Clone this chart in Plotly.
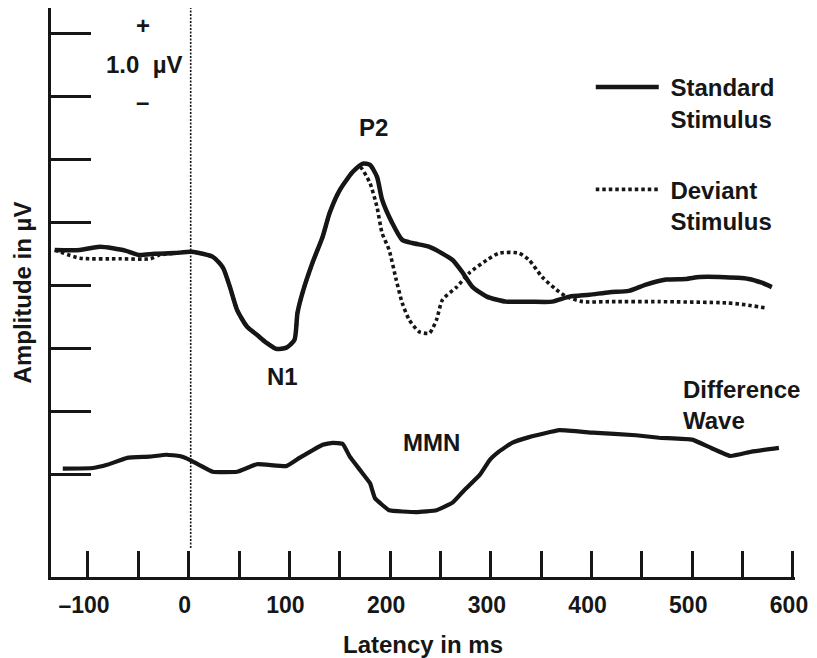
import plotly.graph_objects as go

# ---------------- data (latency in ms, amplitude in µV, plotted units) ----------------
std_ms = [-133, -108, -88, -63, -49, -34, -14, 3, 24, 34, 41, 48, 58, 68, 77, 87, 97, 105, 108, 113,
          123, 133, 140, 150, 163, 173, 180, 187, 192, 202, 212, 222, 239, 249, 262, 272, 282, 296,
          315, 338, 361, 378, 398, 418, 437, 454, 474, 494, 507, 527, 556, 569, 579]
std_uv = [3.57, 3.57, 3.62, 3.56, 3.49, 3.51, 3.52, 3.54, 3.46, 3.29, 2.98, 2.62, 2.35, 2.22, 2.10,
          2.00, 2.02, 2.14, 2.57, 2.89, 3.37, 3.78, 4.16, 4.52, 4.81, 4.94, 4.92, 4.73, 4.37, 4.00,
          3.73, 3.68, 3.62, 3.54, 3.41, 3.21, 2.98, 2.83, 2.75, 2.75, 2.75, 2.83, 2.86, 2.90, 2.92,
          3.02, 3.10, 3.11, 3.14, 3.14, 3.11, 3.05, 2.98]

dev_ms = [-133, -108, -68, -38, -29, -14, 3, 24, 34, 41, 48, 58, 68, 77, 87, 97, 105, 108, 113, 123,
          133, 140, 150, 163, 170, 180, 187, 192, 199, 206, 212, 219, 229, 239, 246, 252, 266, 279,
          296, 308, 328, 338, 351, 365, 375, 391, 420, 467, 534, 553, 573]
dev_uv = [3.57, 3.44, 3.43, 3.43, 3.49, 3.52, 3.54, 3.46, 3.29, 2.98, 2.62, 2.35, 2.22, 2.10, 2.00,
          2.02, 2.14, 2.57, 2.89, 3.37, 3.78, 4.16, 4.52, 4.81, 4.89, 4.63, 4.25, 3.84, 3.57, 3.10,
          2.73, 2.46, 2.27, 2.25, 2.46, 2.78, 2.98, 3.21, 3.41, 3.52, 3.52, 3.41, 3.14, 2.94, 2.83,
          2.75, 2.75, 2.75, 2.73, 2.70, 2.65]

diff_ms = [-125, -95, -81, -61, -39, -22, -9, 1, 24, 48, 68, 97, 110, 133, 143, 153, 160, 170, 180,
           185, 199, 226, 246, 262, 272, 289, 299, 308, 321, 338, 368, 401, 444, 467, 500, 517, 538,
           559, 586]
diff_uv = [0.10, 0.11, 0.16, 0.27, 0.29, 0.32, 0.30, 0.24, 0.05, 0.05, 0.17, 0.14, 0.27, 0.48, 0.51,
           0.49, 0.29, 0.08, -0.13, -0.37, -0.56, -0.59, -0.56, -0.44, -0.27, 0.00, 0.24, 0.37, 0.51,
           0.60, 0.71, 0.67, 0.63, 0.59, 0.56, 0.44, 0.30, 0.37, 0.43]

x_tick_vals = [-100, -50, 0, 50, 100, 150, 200, 250, 300, 350, 400, 450, 500, 550, 600]
x_tick_text = ["\u2013100", "", "0", "", "100", "", "200", "", "300", "", "400", "", "500", "", "600"]
y_tick_vals = [0, 1, 2, 3, 4, 5, 6, 7]

ONSET_MS = 2
ONSET_BOTTOM_UV = -1.16

X_RANGE = [-136.7, 602]
Y_RANGE = [-1.62, 7.41]

INK = "#161616"
FONT = "Liberation Sans"
NB = "\u00a0"

fig = go.Figure()

fig.add_trace(go.Scatter(
    x=std_ms, y=std_uv, mode="lines", name=NB + "Standard<br>" + NB + "Stimulus",
    line=dict(color=INK, width=4.5, shape="spline", smoothing=0.6),
    legendgroup="std",
))
fig.add_trace(go.Scatter(
    x=dev_ms, y=dev_uv, mode="lines", name=NB + "Deviant<br>" + NB + "Stimulus",
    line=dict(color=INK, width=3.6, dash="3.5px,3px", shape="spline", smoothing=0.6),
    legendgroup="dev",
))
fig.add_trace(go.Scatter(
    x=diff_ms, y=diff_uv, mode="lines", name="Difference Wave",
    line=dict(color=INK, width=4.2, shape="spline", smoothing=0.3), showlegend=False,
))

# stimulus onset line
fig.add_shape(type="line", xref="x", yref="y",
              x0=ONSET_MS, x1=ONSET_MS, y0=ONSET_BOTTOM_UV, y1=Y_RANGE[1],
              line=dict(color=INK, width=1.6, dash="2px,1.5px"))

txt = dict(family=FONT, size=24, color=INK, weight="bold")
tick_txt = dict(family=FONT, size=23, color=INK, weight="bold")

def label(x, y, text, xanchor="center"):
    fig.add_annotation(x=x, y=y, xref="x", yref="y", text=text, showarrow=False,
                       font=txt, xanchor=xanchor, yanchor="middle", align="left")

label(-45.5, 7.14, "+")
label(-43.4, 6.51, "1.0" + NB + NB + "\u00b5V")
label(-45.5, 5.92, "\u2013")
label(183.6, 5.51, "P2")
label(93.3, 1.56, "N1")
label(241, 0.52, "MMN")
label(489, 1.11, "Difference<br>Wave", xanchor="left")

# the page adds an 8 px body margin, so the figure is 8 px smaller and starts at the plot corner
fig.update_layout(
    width=809, height=650,
    margin=dict(l=43, r=22, t=0, b=81),
    paper_bgcolor="white", plot_bgcolor="white",
    font=txt,
    showlegend=True,
    legend=dict(x=0.7255, y=0.90, xanchor="left", yanchor="top",
                font=txt, itemwidth=63, valign="top", tracegroupgap=37,
                bgcolor="rgba(0,0,0,0)"),
    xaxis=dict(range=X_RANGE, tickvals=x_tick_vals, ticktext=x_tick_text,
               ticks="inside", ticklen=26, tickwidth=2.5, tickcolor=INK,
               showline=True, linewidth=2.5, linecolor=INK, automargin=False,
               showgrid=False, zeroline=False, tickfont=tick_txt,
               ticklabelstandoff=6, ticklabelshift=-4,
               title=dict(text="Latency in ms", font=txt, standoff=19)),
    yaxis=dict(range=Y_RANGE, tickvals=y_tick_vals,
               ticks="inside", ticklen=40, tickwidth=2.5, tickcolor=INK,
               showline=True, linewidth=2.5, linecolor=INK, automargin=False,
               showgrid=False, zeroline=False, showticklabels=False,
               title=dict(text="Amplitude in \u00b5V", font=txt, standoff=10)),
)

fig.write_html("out.html")
